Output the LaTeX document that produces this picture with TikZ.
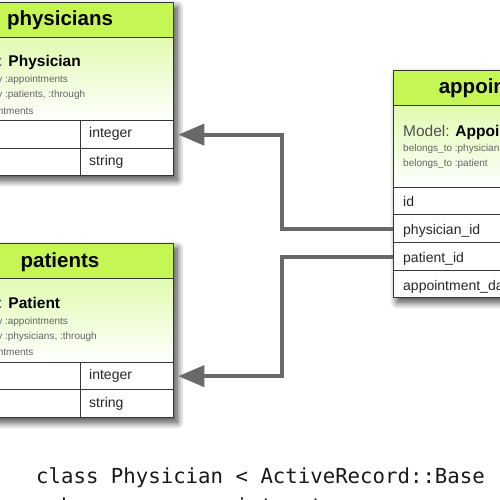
\documentclass[tikz,border=0pt]{standalone}
\usepackage{fontspec}
\setmainfont{Liberation Sans}
\newfontfamily\codefont{DejaVu Sans Mono}
\usetikzlibrary{arrows.meta,shadows.blur}
\definecolor{hdr}{RGB}{198,246,84}
\definecolor{mdl}{RGB}{224,251,176}
\definecolor{bord}{RGB}{55,55,55}
\definecolor{conncol}{RGB}{105,105,105}
\definecolor{mgray}{RGB}{80,80,80}
\definecolor{sgray}{RGB}{100,100,100}
\tikzset{
  tshadow/.style={draw=none,fill=white,anchor=north west,inner sep=0pt,
    blur shadow={shadow xshift=4pt,shadow yshift=-5pt,shadow blur radius=7pt,shadow blur steps=14,shadow opacity=75}},
  hdrbox/.style={draw=bord,line width=1.3pt,fill=hdr,anchor=north west,inner sep=0pt,minimum height=35pt},
  mdlbox/.style={draw=bord,line width=1.3pt,top color=mdl,bottom color=white,anchor=north west,inner sep=0pt},
  rowbox/.style={draw=bord,line width=1.3pt,fill=white,anchor=north west,inner sep=0pt},
  hdrtext/.style={anchor=base,inner sep=0pt,font=\fontsize{20.5}{24}\selectfont\bfseries},
  mdltext/.style={anchor=base west,inner sep=0pt,font=\fontsize{15.5}{18}\selectfont,text=mgray},
  smalltext/.style={anchor=base west,inner sep=0pt,font=\fontsize{10}{12}\selectfont,text=sgray},
  rowtext/.style={anchor=base west,inner sep=0pt,font=\fontsize{14}{16}\selectfont,text=black!85},
  codetext/.style={anchor=base west,inner sep=0pt,font=\codefont\fontsize{20.7}{25}\selectfont,text=black!90},
  conn/.style={draw=conncol,line width=4pt,-{Triangle[length=26pt,width=21pt]},line join=miter}
}
\begin{document}
\begin{tikzpicture}[x=1pt,y=-1pt]
\useasboundingbox (0,0) rectangle (500,500);
\clip (0,0) rectangle (500,500);
% ---------- physicians ----------
\node[tshadow,minimum width=226pt,minimum height=173pt] (phtab) at (-53,2) {};
\node[hdrbox,minimum width=226pt] (phhead) at (-53,2) {};
\node[hdrtext] (phtitle) at (60,26) {physicians};
\node[mdlbox,minimum width=226pt,minimum height=83pt] (phmodel) at (-53,37) {};
\node[mdltext] (phm) at (-44,67) {Model: \textcolor{black}{\bfseries Physician}};
\node[smalltext] (phs1) at (-44,83) {has\_many :appointments};
\node[smalltext] (phs2) at (-44,98) {has\_many :patients, :through};
\node[smalltext] (phs3) at (-44,114) {=> :appointments};
\node[rowbox,minimum width=133pt,minimum height=28pt] (phid) at (-53,120) {};
\node[rowbox,minimum width=93pt,minimum height=28pt] (phint) at (80,120) {};
\node[rowbox,minimum width=133pt,minimum height=27pt] (phname) at (-53,148) {};
\node[rowbox,minimum width=93pt,minimum height=27pt] (phstr) at (80,148) {};
\node[rowtext] (phintt) at (89,137.5) {integer};
\node[rowtext] (phstrt) at (89,165) {string};
% ---------- patients ----------
\node[tshadow,minimum width=226pt,minimum height=174pt] (patab) at (-53,243) {};
\node[hdrbox,minimum width=226pt] (pahead) at (-53,243) {};
\node[hdrtext] (patitle) at (60,267) {patients};
\node[mdlbox,minimum width=226pt,minimum height=84pt] (pamodel) at (-53,278) {};
\node[mdltext] (pam) at (-44,308) {Model: \textcolor{black}{\bfseries Patient}};
\node[smalltext] (pas1) at (-44,324) {has\_many :appointments};
\node[smalltext] (pas2) at (-44,339.5) {has\_many :physicians, :through};
\node[smalltext] (pas3) at (-44,355.5) {=> :appointments};
\node[rowbox,minimum width=133pt,minimum height=27pt] (paid) at (-53,362) {};
\node[rowbox,minimum width=93pt,minimum height=27pt] (paint) at (80,362) {};
\node[rowbox,minimum width=133pt,minimum height=28pt] (paname) at (-53,389) {};
\node[rowbox,minimum width=93pt,minimum height=28pt] (pastr) at (80,389) {};
\node[rowtext] (paintt) at (89,379) {integer};
\node[rowtext] (pastrt) at (89,407) {string};
% ---------- appointments ----------
\node[tshadow,minimum width=226pt,minimum height=227pt] (aptab) at (393,70) {};
\node[hdrbox,minimum width=226pt] (aphead) at (393,70) {};
\node[hdrtext] (aptitle) at (506,94) {appointments};
\node[mdlbox,minimum width=226pt,minimum height=82pt] (apmodel) at (393,105) {};
\node[mdltext] (apm) at (403,136) {Model: \textcolor{black}{\bfseries Appointment}};
\node[smalltext] (aps1) at (403,151) {belongs\_to :physician};
\node[smalltext] (aps2) at (403,166) {belongs\_to :patient};
\node[rowbox,minimum width=226pt,minimum height=27pt] (apid) at (393,187) {};
\node[rowbox,minimum width=226pt,minimum height=28pt] (aphys) at (393,214) {};
\node[rowbox,minimum width=226pt,minimum height=28pt] (apat) at (393,242) {};
\node[rowbox,minimum width=226pt,minimum height=27pt] (apdate) at (393,270) {};
\node[rowtext] (apidt) at (403,206.5) {id};
\node[rowtext] (aphyst) at (403,234.5) {physician\_id};
\node[rowtext] (apatt) at (403,262) {patient\_id};
\node[rowtext] (apdatet) at (403,290) {appointment\_date};
% ---------- connectors ----------
\draw[conn] (aphys.west) -- ++(-111,0) |- ([xshift=4pt]phint.east);
\draw[conn] (apat.west) -- ++(-111,0) |- ([xshift=4pt]paint.east);
% ---------- code ----------
\node[codetext] (code1) at (36,483) {class Physician < ActiveRecord::Base};
\node[codetext] (code2) at (36,513) {\ \ has\_many :appointments};
\end{tikzpicture}
\end{document}
